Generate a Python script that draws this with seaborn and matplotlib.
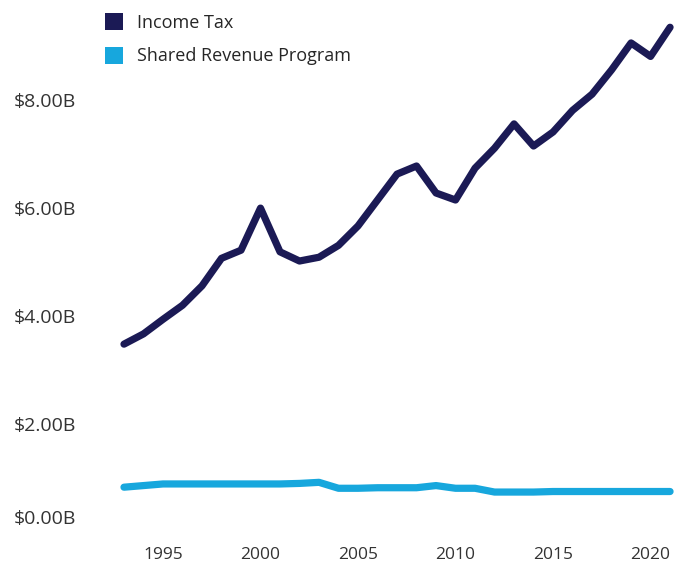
import matplotlib
matplotlib.use("Agg")
import matplotlib.pyplot as plt
import matplotlib.transforms as mtransforms
from matplotlib.patches import Patch
import seaborn as sns
import pandas as pd

years = list(range(1993, 2022))
income_tax = [3.48, 3.67, 3.94, 4.20, 4.56, 5.07, 5.22, 6.00, 5.19, 5.02,
              5.09, 5.31, 5.67, 6.15, 6.63, 6.78, 6.28, 6.15, 6.74, 7.11,
              7.56, 7.15, 7.41, 7.81, 8.11, 8.56, 9.06, 8.81, 9.35]
shared_revenue = [0.83, 0.86, 0.89, 0.89, 0.89, 0.89, 0.89, 0.89, 0.89, 0.90,
                  0.92, 0.81, 0.81, 0.82, 0.82, 0.82, 0.86, 0.81, 0.81, 0.74,
                  0.74, 0.74, 0.75, 0.75, 0.75, 0.75, 0.75, 0.75, 0.75]
series_names = ["Income Tax", "Shared Revenue Program"]
colors = ["#1b1a55", "#17a7dd"]
y_ticks = [0, 2, 4, 6, 8]
y_tick_labels = ["$0.00B", "$2.00B", "$4.00B", "$6.00B", "$8.00B"]
x_ticks = [1995, 2000, 2005, 2010, 2015, 2020]

df = pd.DataFrame({
    "Year": years * 2,
    "Value": income_tax + shared_revenue,
    "Series": [series_names[0]] * len(years) + [series_names[1]] * len(years),
})

sns.set_theme(style="white")
plt.rcParams["font.family"] = ["Open Sans", "DejaVu Sans"]

W, H = 683, 567
fig = plt.figure(figsize=(W / 100, H / 100), dpi=100)
ax = fig.add_axes([100 / W, 1 - 532 / H, 580 / W, 522 / H])

sns.lineplot(data=df, x="Year", y="Value", hue="Series", palette=colors,
             hue_order=series_names, linewidth=5.2, ax=ax, legend=False,
             solid_capstyle="round", solid_joinstyle="round")

ax.set_xlim(1991.77, 2021.51)
ax.set_ylim(0, 9.67)
ax.set_xticks(x_ticks)
ax.set_xticklabels([str(x) for x in x_ticks], fontsize=12.5, color="#333333")
ax.set_yticks(y_ticks)
ax.set_yticklabels(y_tick_labels, fontsize=14, color="#333333")
ax.tick_params(axis="y", length=0, pad=17)
ax.tick_params(axis="x", length=0, pad=11)
ax.set_xlabel("")
ax.set_ylabel("")
for s in ax.spines.values():
    s.set_visible(False)
ax.grid(False)

# shift $0.00B label up like the reference
lbl = ax.get_yticklabels()[0]
lbl.set_transform(lbl.get_transform() +
                  mtransforms.ScaledTranslation(0, 15 / 100, fig.dpi_scale_trans))

handles = [Patch(facecolor=c, edgecolor="none") for c in colors]
fig.legend(handles, series_names, loc="upper left",
           bbox_to_anchor=(105 / W, 1 - 13 / H), frameon=False,
           fontsize=13, handlelength=1.0, handleheight=1.05,
           handletextpad=0.75, labelspacing=0.85, borderaxespad=0,
           borderpad=0)

fig.savefig("out.png", dpi=100)
